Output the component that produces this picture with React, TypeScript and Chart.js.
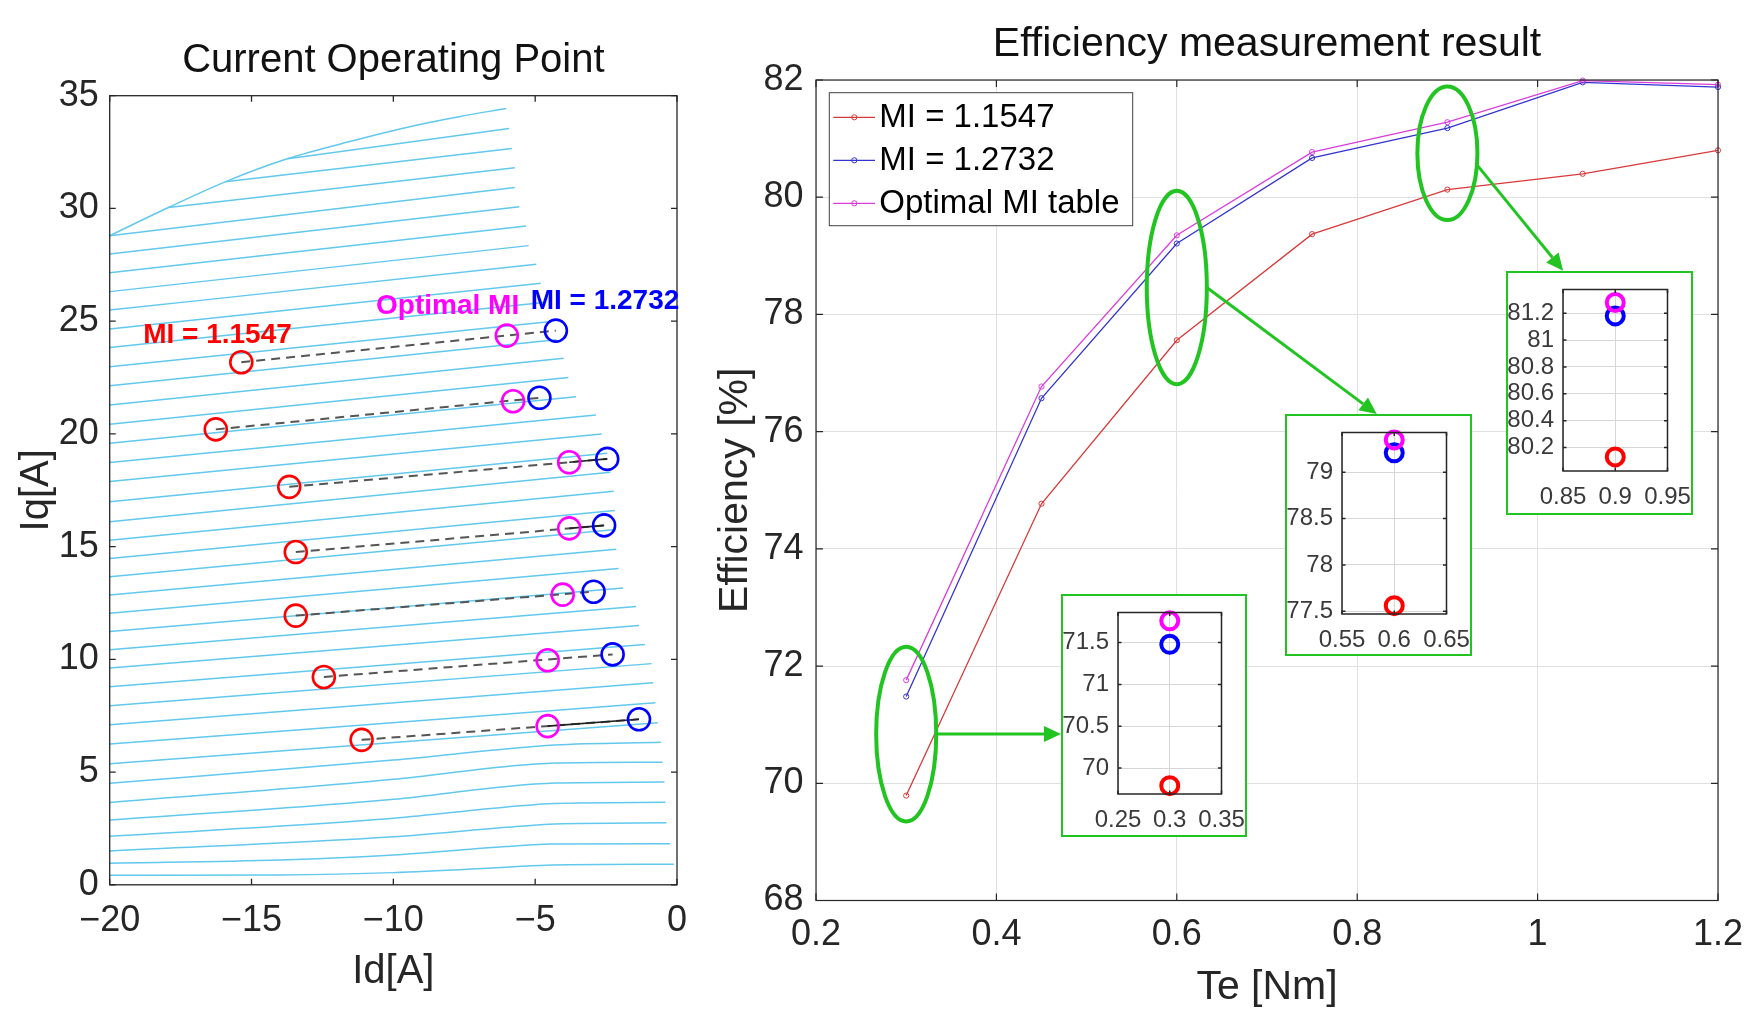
import React, { useEffect, useRef } from "react";
import { Chart, registerables } from "chart.js";

Chart.register(...registerables);

const FONT = "'Liberation Sans', Arial, Helvetica, sans-serif";
const INK = "#262626";
const GREEN = "#22C422";

/* ---------------- Left panel: current operating point ---------------- */
const idTicks = [-20, -15, -10, -5, 0];
const iqTicks = [0, 5, 10, 15, 20, 25, 30, 35];

// constant-torque contours, [Id, Iq] points
const torqueContours: number[][][] = [
  [[-20, 0.42], [-14, 0.44], [-10, 0.54], [-6, 0.78], [-4.4, 0.88], [-0.11, 0.91]],
  [[-20, 0.96], [-14, 1.1], [-10, 1.32], [-6, 1.7], [-4.4, 1.81], [-0.24, 1.82]],
  [[-20, 1.5], [-10, 2.13], [-6, 2.55], [-4.3, 2.7], [-0.37, 2.75]],
  [[-20, 2.15], [-10, 2.95], [-6, 3.45], [-4.3, 3.61], [-0.41, 3.66]],
  [[-20, 2.87], [-10, 3.79], [-6, 4.36], [-4.3, 4.51], [-0.44, 4.56]],
  [[-20, 3.65], [-10, 4.68], [-6, 5.25], [-4.3, 5.4], [-0.51, 5.44]],
  [[-20, 4.5], [-10, 5.53], [-4.3, 6.2], [-0.57, 6.32]],
  [[-20, 5.37], [-0.68, 7.19]],
  [[-20, 6.24], [-0.76, 8.07]],
  [[-20, 7.1], [-0.84, 8.96]],
  [[-20, 7.94], [-0.89, 9.81]],
  [[-20, 8.78], [-1.13, 10.66]],
  [[-20, 9.62], [-1.34, 11.5]],
  [[-20, 10.43], [-1.44, 12.34]],
  [[-20, 11.24], [-1.9, 13.16]],
  [[-20, 12.04], [-2.06, 14.03]],
  [[-20, 12.85], [-2.14, 14.88]],
  [[-20, 13.66], [-2.17, 15.76]],
  [[-20, 14.47], [-2.19, 16.6]],
  [[-20, 15.28], [-2.23, 17.46]],
  [[-20, 16.1], [-2.35, 18.3]],
  [[-20, 16.99], [-2.46, 19.14]],
  [[-20, 17.89], [-2.66, 20.0]],
  [[-20, 18.73], [-2.86, 20.84]],
  [[-20, 19.59], [-3.56, 21.65]],
  [[-20, 20.43], [-3.83, 22.5]],
  [[-20, 21.28], [-4.0, 23.35]],
  [[-20, 22.14], [-4.26, 24.17]],
  [[-20, 22.98], [-4.43, 24.98]],
  [[-20, 23.83], [-4.7, 25.83]],
  [[-20, 24.65], [-4.8, 26.68]],
  [[-20, 25.49], [-4.96, 27.52]],
  [[-20, 26.31], [-5.23, 28.35]],
  [[-20, 27.15], [-5.32, 29.22]],
  [[-20, 27.98], [-5.56, 30.07]],
  [[-20, 28.79], [-5.72, 30.93]],
  [[-17.93, 30.04], [-5.72, 31.8]],
  [[-15.93, 31.18], [-5.82, 32.66]],
  [[-13.74, 32.2], [-5.92, 33.55]],
  [[-20, 28.79], [-17.93, 30.04], [-15.93, 31.18], [-13.74, 32.2], [-11.5, 32.98], [-9.23, 33.68], [-7.64, 34.08], [-6.02, 34.43]],
];

// operating points (Id, Iq) for the seven torque levels
const miLowId = [-15.36, -16.26, -13.67, -13.44, -13.44, -12.45, -11.12];
const miLowIq = [23.18, 20.2, 17.65, 14.76, 11.94, 9.22, 6.43];
const miOptId = [-6.0, -5.78, -3.8, -3.8, -4.03, -4.56, -4.56];
const miOptIq = [24.36, 21.45, 18.74, 15.81, 12.87, 9.96, 7.04];
const miHighId = [-4.27, -4.85, -2.46, -2.57, -2.94, -2.27, -1.34];
const miHighIq = [24.58, 21.6, 18.89, 15.94, 13.0, 10.22, 7.34];
const solidLinkRows = [2, 3, 6];

const opLabelText = ["MI = 1.1547", "Optimal MI", "MI = 1.2732"];
const opLabelId = [-18.82, -10.61, -5.16];
const opLabelIq = [24.39, 25.64, 25.86];
const opColors = ["#FF0000", "#FF00FF", "#0000FF"];

/* ---------------- Right panel: efficiency ---------------- */
const teValues = [0.3, 0.45, 0.6, 0.75, 0.9, 1.05, 1.2];
const effLow = [69.79, 74.77, 77.56, 79.37, 80.13, 80.4, 80.8];
const effHigh = [71.48, 76.57, 79.21, 80.67, 81.18, 81.96, 81.88];
const effOpt = [71.76, 76.77, 79.35, 80.77, 81.28, 81.99, 81.92];
const seriesLabels = ["MI = 1.1547", "MI = 1.2732", "Optimal MI table"];
const seriesColors = ["#D83A3A", "#3434D0", "#DA3EDA"];
const teTicks = [0.2, 0.4, 0.6, 0.8, 1, 1.2];
const effTicks = [68, 70, 72, 74, 76, 78, 80, 82];

// callouts (ellipses) around Te = 0.3, 0.6, 0.9
const calloutTe = [0.3, 0.6, 0.9];
const calloutEffCenter = [70.84, 78.46, 80.75];
const calloutEffHalf = [1.49, 1.65, 1.14];
const calloutTeHalf = [0.0333, 0.0333, 0.0333];

// zoomed insets
const insetIndex = [0, 2, 4];
const insetXTicks = [
  [0.25, 0.3, 0.35],
  [0.55, 0.6, 0.65],
  [0.85, 0.9, 0.95],
];
const insetYTicks = [
  [70, 70.5, 71, 71.5],
  [77.5, 78, 78.5, 79],
  [80.2, 80.4, 80.6, 80.8, 81, 81.2],
];
const insetYMin = [69.69, 77.47, 80.025];
const insetYMax = [71.86, 79.43, 81.377];

/* ---------------- layout (page pixels) ---------------- */
const W = 1761;
const H = 1027;
const RIGHT_LEFT = 700;
const insetFrames = [
  { left: 1061, top: 594.3, w: 186.3, h: 242.4 },
  { left: 1285, top: 414, w: 187.3, h: 242 },
  { left: 1506, top: 270.7, w: 187.3, h: 244.3 },
];
const arrowTargetFx = [0, 0.49, 0.305];
const arrowTargetFy = [0.58, 0, 0];
const arrowStartDeg = [0, 0, 10];

const fmt = (v: number) => (v < 0 ? "\u2212" + Math.abs(v) : String(v));

function framePlugin(tickLen: number, color: string, lw: number) {
  return {
    id: "frameTicks",
    afterDatasetsDraw(chart: any) {
      const { ctx, chartArea: a, scales } = chart;
      ctx.save();
      ctx.strokeStyle = color;
      ctx.lineWidth = lw;
      ctx.beginPath();
      scales.x.ticks.forEach((t: any) => {
        const px = scales.x.getPixelForValue(t.value);
        ctx.moveTo(px, a.bottom);
        ctx.lineTo(px, a.bottom - tickLen);
        ctx.moveTo(px, a.top);
        ctx.lineTo(px, a.top + tickLen);
      });
      scales.y.ticks.forEach((t: any) => {
        const py = scales.y.getPixelForValue(t.value);
        ctx.moveTo(a.left, py);
        ctx.lineTo(a.left + tickLen, py);
        ctx.moveTo(a.right, py);
        ctx.lineTo(a.right - tickLen, py);
      });
      ctx.stroke();
      ctx.strokeRect(a.left, a.top, a.right - a.left, a.bottom - a.top);
      ctx.restore();
    },
  };
}

const setTicks = (vals: number[]) => (s: any) => {
  s.ticks = vals.map((v) => ({ value: v }));
};
const fixW = (w: number) => (s: any) => {
  s.width = w;
  s.paddingTop = 0;
  s.paddingBottom = 0;
};
const fixH = (h: number) => (s: any) => {
  s.height = h;
  s.paddingLeft = 0;
  s.paddingRight = 0;
};

function leftConfig(): any {
  const datasets: any[] = [];
  const circles = (ids: number[], iqs: number[], color: string) => ({
    data: ids.map((x, i) => ({ x, y: iqs[i] })),
    showLine: false,
    pointRadius: 11,
    pointHoverRadius: 11,
    pointBorderWidth: 2.6,
    pointBorderColor: color,
    pointBackgroundColor: "rgba(0,0,0,0)",
    order: 0,
    clip: false,
  });
  datasets.push(circles(miHighId, miHighIq, opColors[2]));
  datasets.push(circles(miOptId, miOptIq, opColors[1]));
  datasets.push(circles(miLowId, miLowIq, opColors[0]));
  solidLinkRows.forEach((r) =>
    datasets.push({
      data: [
        { x: miOptId[r], y: miOptIq[r] },
        { x: miHighId[r], y: miHighIq[r] },
      ],
      showLine: true,
      borderColor: "#222",
      borderWidth: 1.6,
      pointRadius: 0,
      order: 1,
    })
  );
  miLowId.forEach((_, r) =>
    datasets.push({
      data: [
        { x: miLowId[r], y: miLowIq[r] },
        { x: miHighId[r], y: miHighIq[r] },
      ],
      showLine: true,
      borderColor: "#555",
      borderWidth: 2,
      borderDash: [9, 6],
      pointRadius: 0,
      order: 2,
    })
  );
  torqueContours.forEach((c) =>
    datasets.push({
      data: c.map(([x, y]) => ({ x, y })),
      showLine: true,
      borderColor: "#62C8EE",
      borderWidth: 1.5,
      pointRadius: 0,
      cubicInterpolationMode: "monotone",
      order: 3,
    })
  );

  const labelPlugin = {
    id: "opLabels",
    afterDatasetsDraw(chart: any) {
      const { ctx, scales } = chart;
      ctx.save();
      ctx.font = `bold 28px ${FONT}`;
      ctx.textBaseline = "middle";
      ctx.textAlign = "left";
      opLabelText.forEach((t, i) => {
        ctx.fillStyle = opColors[i];
        ctx.fillText(t, scales.x.getPixelForValue(opLabelId[i]), scales.y.getPixelForValue(opLabelIq[i]));
      });
      ctx.restore();
    },
  };

  return {
    type: "scatter",
    data: { datasets },
    options: {
      responsive: false,
      animation: false,
      devicePixelRatio: 1,
      events: [],
      layout: { padding: { left: 0, right: 23, top: 0, bottom: 0 } },
      plugins: {
        legend: { display: false },
        tooltip: { enabled: false },
        title: {
          display: true,
          text: "Current Operating Point",
          color: "#111",
          fullSize: false,
          font: { family: FONT, size: 40, weight: "normal", lineHeight: 1.2 },
          padding: { top: 36.6, bottom: 11.1 },
        },
      },
      scales: {
        x: {
          type: "linear",
          min: -20,
          max: 0,
          afterBuildTicks: setTicks(idTicks),
          afterFit: fixH(H - 884.8),
          grid: { display: false, drawTicks: false },
          border: { display: false },
          ticks: {
            color: INK,
            padding: 18,
            maxRotation: 0,
            autoSkip: false,
            font: { family: FONT, size: 36, lineHeight: 1 },
            callback: (v: any) => fmt(Number(v)),
          },
          title: {
            display: true,
            text: "Id[A]",
            color: INK,
            font: { family: FONT, size: 40, lineHeight: 1 },
            padding: { top: 0, bottom: 35.5 },
          },
        },
        y: {
          type: "linear",
          min: 0,
          max: 35,
          afterBuildTicks: setTicks(iqTicks),
          afterFit: fixW(109.7),
          grid: { display: false, drawTicks: false },
          border: { display: false },
          ticks: {
            color: INK,
            padding: 11,
            autoSkip: false,
            font: { family: FONT, size: 36, lineHeight: 1 },
            callback: (v: any) => fmt(Number(v)),
          },
          title: {
            display: true,
            text: "Iq[A]",
            color: INK,
            font: { family: FONT, size: 40, lineHeight: 1 },
            padding: { top: 17, bottom: 0 },
          },
        },
      },
    },
    plugins: [framePlugin(6, INK, 1.3), labelPlugin],
  };
}

function rightConfig(): any {
  const series = [effLow, effHigh, effOpt];
  const orders = [2, 1, 0];
  const datasets = series.map((vals, i) => ({
    label: seriesLabels[i],
    data: teValues.map((x, k) => ({ x, y: vals[k] })),
    showLine: true,
    borderColor: seriesColors[i],
    borderWidth: 1.3,
    pointRadius: 2.6,
    pointBorderWidth: 1,
    pointBorderColor: seriesColors[i],
    pointBackgroundColor: "rgba(255,255,255,0)",
    order: orders[i],
    clip: false,
  }));

  const legendPlugin = {
    id: "insideLegend",
    afterDatasetsDraw(chart: any) {
      const { ctx, chartArea: a } = chart;
      const x0 = a.left + 13.3;
      const y0 = a.top + 12.7;
      ctx.save();
      ctx.fillStyle = "#fff";
      ctx.fillRect(x0, y0, 303.4, 133);
      ctx.strokeStyle = "#404040";
      ctx.lineWidth = 1;
      ctx.strokeRect(x0, y0, 303.4, 133);
      chart.data.datasets.forEach((ds: any, i: number) => {
        const cy = y0 + 24.6 + i * 43;
        ctx.strokeStyle = ds.borderColor;
        ctx.lineWidth = ds.borderWidth;
        ctx.beginPath();
        ctx.moveTo(x0 + 4, cy);
        ctx.lineTo(x0 + 45.7, cy);
        ctx.stroke();
        ctx.beginPath();
        ctx.lineWidth = 1;
        ctx.arc(x0 + 25, cy, 2.6, 0, Math.PI * 2);
        ctx.stroke();
        ctx.fillStyle = "#000";
        ctx.font = `33px ${FONT}`;
        ctx.textBaseline = "middle";
        ctx.textAlign = "left";
        ctx.fillText(ds.label, x0 + 50, cy + 1);
      });
      ctx.restore();
    },
  };

  const calloutPlugin = {
    id: "callouts",
    afterDatasetsDraw(chart: any) {
      const { ctx, scales } = chart;
      ctx.save();
      ctx.strokeStyle = GREEN;
      ctx.fillStyle = GREEN;
      calloutTe.forEach((te, i) => {
        const cx = scales.x.getPixelForValue(te);
        const cy = scales.y.getPixelForValue(calloutEffCenter[i]);
        const rx = Math.abs(scales.x.getPixelForValue(te + calloutTeHalf[i]) - cx);
        const ry = Math.abs(scales.y.getPixelForValue(calloutEffCenter[i] + calloutEffHalf[i]) - cy);
        ctx.lineWidth = 4;
        ctx.beginPath();
        ctx.ellipse(cx, cy, rx, ry, 0, 0, Math.PI * 2);
        ctx.stroke();
        // arrow from ellipse edge to the inset frame
        const ang = (arrowStartDeg[i] * Math.PI) / 180;
        const sx = cx + rx * Math.cos(ang);
        const sy = cy + ry * Math.sin(ang);
        const f = insetFrames[i];
        const ex = f.left + f.w * arrowTargetFx[i] - RIGHT_LEFT;
        const ey = i === 0 ? sy : f.top + f.h * arrowTargetFy[i];
        const dx = ex - sx;
        const dy = ey - sy;
        const len = Math.hypot(dx, dy);
        const ux = dx / len;
        const uy = dy / len;
        const head = 17;
        const half = 8;
        ctx.lineWidth = 3;
        ctx.beginPath();
        ctx.moveTo(sx, sy);
        ctx.lineTo(ex - ux * head, ey - uy * head);
        ctx.stroke();
        ctx.beginPath();
        ctx.moveTo(ex, ey);
        ctx.lineTo(ex - ux * head - uy * half, ey - uy * head + ux * half);
        ctx.lineTo(ex - ux * head + uy * half, ey - uy * head - ux * half);
        ctx.closePath();
        ctx.fill();
      });
      ctx.restore();
    },
  };

  return {
    type: "scatter",
    data: { datasets },
    options: {
      responsive: false,
      animation: false,
      devicePixelRatio: 1,
      events: [],
      layout: { padding: { left: 0, right: 43, top: 0, bottom: 0 } },
      plugins: {
        legend: { display: false },
        tooltip: { enabled: false },
        title: {
          display: true,
          text: "Efficiency measurement result",
          color: "#111",
          fullSize: false,
          font: { family: FONT, size: 41, weight: "normal", lineHeight: 1.2 },
          padding: { top: 20.4, bottom: 10.4 },
        },
      },
      scales: {
        x: {
          type: "linear",
          min: 0.2,
          max: 1.2,
          afterBuildTicks: setTicks(teTicks),
          afterFit: fixH(H - 900.5),
          grid: { color: "#E0E0E0", lineWidth: 1, drawTicks: false },
          border: { display: false },
          ticks: {
            color: INK,
            padding: 17,
            maxRotation: 0,
            autoSkip: false,
            font: { family: FONT, size: 36, lineHeight: 1 },
            callback: (v: any) => String(Number(v)),
          },
          title: {
            display: true,
            text: "Te [Nm]",
            color: INK,
            font: { family: FONT, size: 41, lineHeight: 1 },
            padding: { top: 0, bottom: 18.5 },
          },
        },
        y: {
          type: "linear",
          min: 68,
          max: 82,
          afterBuildTicks: setTicks(effTicks),
          afterFit: fixW(116),
          grid: { color: "#E0E0E0", lineWidth: 1, drawTicks: false },
          border: { display: false },
          ticks: {
            color: INK,
            padding: 12.5,
            autoSkip: false,
            font: { family: FONT, size: 36, lineHeight: 1 },
            callback: (v: any) => String(Number(v)),
          },
          title: {
            display: true,
            text: "Efficiency [%]",
            color: INK,
            font: { family: FONT, size: 41, lineHeight: 1 },
            padding: { top: 15.1, bottom: 0 },
          },
        },
      },
    },
    plugins: [framePlugin(7, INK, 1.2), calloutPlugin, legendPlugin],
  };
}

function insetConfig(k: number, canvasH: number): any {
  const idx = insetIndex[k];
  const te = teValues[idx];
  const pts = [
    { v: effOpt[idx], c: "#FF00FF", o: 0 },
    { v: effHigh[idx], c: "#0000FF", o: 1 },
    { v: effLow[idx], c: "#FF0000", o: 2 },
  ];
  const datasets = pts.map((p) => ({
    data: [{ x: te, y: p.v }],
    showLine: false,
    pointRadius: 8.5,
    pointHoverRadius: 8.5,
    pointBorderWidth: 4,
    pointBorderColor: p.c,
    pointBackgroundColor: "rgba(0,0,0,0)",
    order: p.o,
    clip: false,
  }));
  const tickFont = { family: FONT, size: 24, lineHeight: 1 };
  return {
    type: "scatter",
    data: { datasets },
    options: {
      responsive: false,
      animation: false,
      devicePixelRatio: 1,
      events: [],
      layout: { padding: { left: 0, right: 23.5, top: 16.5, bottom: 0 } },
      plugins: { legend: { display: false }, tooltip: { enabled: false }, title: { display: false } },
      scales: {
        x: {
          type: "linear",
          min: insetXTicks[k][0],
          max: insetXTicks[k][insetXTicks[k].length - 1],
          afterBuildTicks: setTicks(insetXTicks[k]),
          afterFit: fixH(canvasH - 16.5 - 181.5),
          grid: { color: "#D6D6D6", lineWidth: 1, drawTicks: false },
          border: { display: false },
          ticks: {
            color: "#3A3A3A",
            padding: 14.4,
            maxRotation: 0,
            autoSkip: false,
            font: tickFont,
            callback: (v: any) => String(Number(v)),
          },
        },
        y: {
          type: "linear",
          min: insetYMin[k],
          max: insetYMax[k],
          afterBuildTicks: setTicks(insetYTicks[k]),
          afterFit: fixW(55),
          grid: { color: "#D6D6D6", lineWidth: 1, drawTicks: false },
          border: { display: false },
          ticks: {
            color: "#3A3A3A",
            padding: 9,
            autoSkip: false,
            font: tickFont,
            callback: (v: any) => String(Number(v)),
          },
        },
      },
    },
    plugins: [framePlugin(3.5, INK, 1.5)],
  };
}

function ChartCanvas({ make, left, top, width, height }: any) {
  const ref = useRef<HTMLCanvasElement>(null);
  useEffect(() => {
    const chart = new Chart(ref.current as HTMLCanvasElement, make());
    return () => chart.destroy();
  }, []);
  return (
    <canvas
      ref={ref}
      width={width}
      height={height}
      style={{ position: "absolute", left, top, width, height, display: "block" }}
    />
  );
}

export default function App() {
  return (
    <div
      style={{
        position: "absolute",
        left: 0,
        top: 0,
        width: W,
        height: H,
        background: "#fff",
        overflow: "hidden",
      }}
    >
      <ChartCanvas make={leftConfig} left={0} top={0} width={RIGHT_LEFT} height={H} />
      <ChartCanvas make={rightConfig} left={RIGHT_LEFT} top={0} width={W - RIGHT_LEFT} height={H} />
      {insetFrames.map((f, k) => {
        const cw = Math.round(f.w - 4);
        const ch = Math.round(f.h - 4);
        return (
          <div
            key={k}
            style={{
              position: "absolute",
              left: f.left,
              top: f.top,
              width: f.w,
              height: f.h,
              boxSizing: "border-box",
              border: `2px solid ${GREEN}`,
              background: "#fff",
            }}
          >
            <ChartCanvas make={() => insetConfig(k, ch)} left={0} top={0} width={cw} height={ch} />
          </div>
        );
      })}
    </div>
  );
}
